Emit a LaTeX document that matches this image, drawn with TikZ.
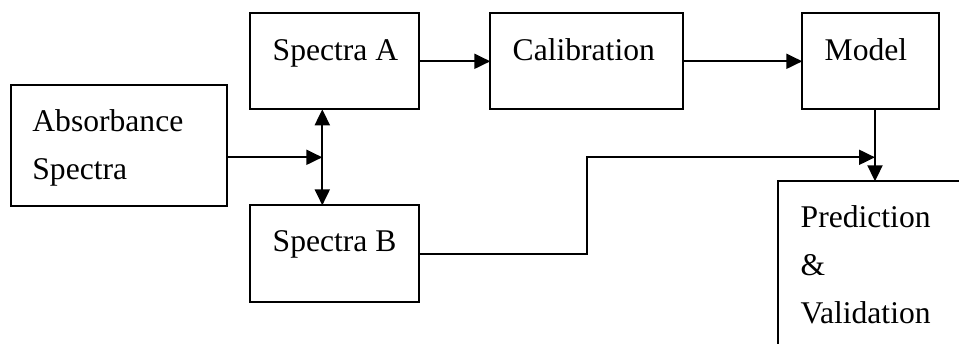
\documentclass[tikz,border=0pt]{standalone}
\usepackage{fontspec}
\setmainfont{Liberation Serif}
\usetikzlibrary{arrows.meta,calc}
\begin{document}
\begin{tikzpicture}[x=0.5pt,y=-0.5pt,
  box/.style={draw,line width=1pt,inner sep=0pt,outer sep=0pt,anchor=north west},
  lbl/.style={anchor=base west,inner sep=0pt,align=left,font=\fontsize{15.8}{24}\selectfont},
  tip/.style={},
  conn/.style={line width=1pt,-{Triangle[length=8pt,width=7.5pt]}},
  dconn/.style={line width=1pt,{Triangle[length=8pt,width=7.5pt]}-{Triangle[length=8pt,width=7.5pt]}}]
\clip (0,0) rectangle (959,343);
\fill[white] (0,0) rectangle (959,343);
% boxes
\node[box,minimum width=108.25pt,minimum height=60.2pt] (abs) at (10.5,85.3) {};
\node[box,minimum width=84.2pt,minimum height=48pt] (sa) at (250.3,13.3) {};
\node[box,minimum width=84.2pt,minimum height=48.2pt] (sb) at (250.3,205.3) {};
\node[box,minimum width=96.35pt,minimum height=48pt] (cal) at (490.3,13.3) {};
\node[box,minimum width=68.35pt,minimum height=48pt] (mod) at (802.3,13.3) {};
\node[box,minimum width=125pt,minimum height=100pt] (pred) at (778.3,181.3) {};
% labels (base anchor = baseline of last line)
\node[lbl] (tabs) at ($(abs.north west)+(21.5,94.5)$) {Absorbance\\Spectra};
\node[lbl] (tsa) at ($(sa.north west)+(22,47)$) {Spectra A};
\node[lbl] (tsb) at ($(sb.north west)+(22,46)$) {Spectra B};
\node[lbl] (tcal) at ($(cal.north west)+(22,47)$) {Calibration};
\node[lbl] (tmod) at ($(mod.north west)+(22,47)$) {Model};
\node[lbl] (tpred) at ($(pred.north west)+(22,142)$) {Prediction\\\&\\Validation};
% junctions
\coordinate (j1) at (322.3,157.3);
\coordinate (j2) at (875,157.3);
\coordinate (bend) at (586.7,157.3);
% connectors
\draw[conn] (sa.east) -- (cal.west);
\draw[conn] (cal.east) -- (mod.west);
\draw[conn] (abs.east |- j1) -- (j1);
\draw[dconn] (sa.south -| j1) -- (sb.north -| j1);
\draw[conn] (sb.east) -| (bend) -- (j2);
\draw[conn] (mod.south -| j2) -- (pred.north -| j2);
\end{tikzpicture}
\end{document}
